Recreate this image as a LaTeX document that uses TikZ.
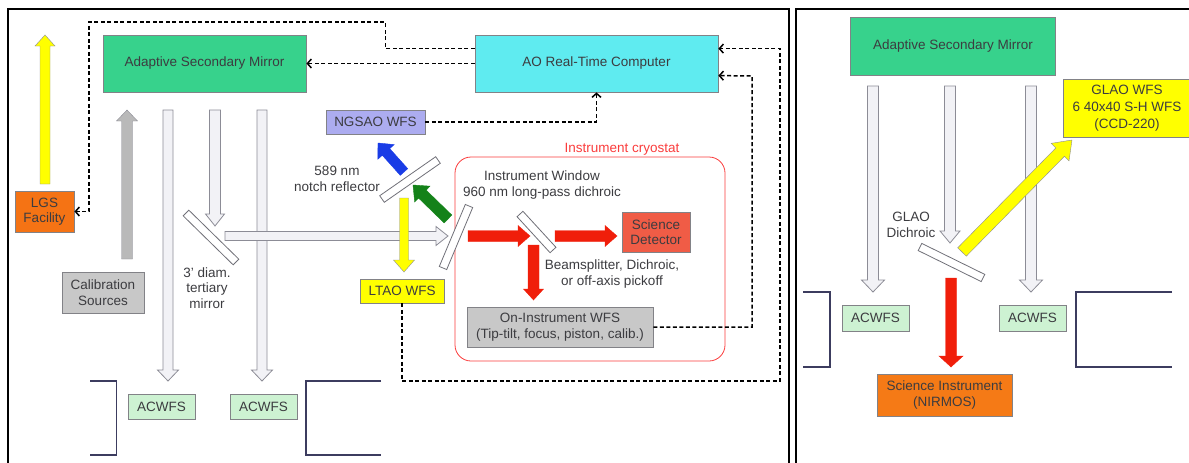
\documentclass[tikz,border=0pt]{standalone}
\usepackage{fontspec}
\setmainfont{Liberation Sans}
\usetikzlibrary{calc,arrows.meta}
\definecolor{txtgray}{RGB}{60,60,64}
\definecolor{boxline}{RGB}{130,130,135}
\definecolor{asmgreen}{RGB}{55,210,140}
\definecolor{rtccyan}{RGB}{95,235,240}
\definecolor{lgsorange}{RGB}{245,115,20}
\definecolor{ngsblue}{RGB}{172,172,240}
\definecolor{wfsyellow}{RGB}{255,255,0}
\definecolor{calgray}{RGB}{200,200,200}
\definecolor{detred}{RGB}{240,92,70}
\definecolor{sciorange}{RGB}{245,122,22}
\definecolor{acgreen}{RGB}{205,242,210}
\definecolor{cryored}{RGB}{250,60,60}
\definecolor{beamfill}{RGB}{242,242,246}
\definecolor{beamline}{RGB}{140,140,150}
\definecolor{beamred}{RGB}{240,30,10}
\definecolor{beamblue}{RGB}{25,60,230}
\definecolor{beamgreen}{RGB}{20,130,25}
\definecolor{beamgray}{RGB}{185,185,185}
\definecolor{bracketblue}{RGB}{60,60,95}
\tikzstyle{box}=[draw=boxline,line width=0.8pt,align=center,text=txtgray,inner sep=1pt]
\tikzstyle{ctrl}=[dash pattern=on 4pt off 2.5pt,line width=1.5pt,-{Straight Barb[length=4pt,width=9pt]}]
\tikzstyle{lightbeam}=[fill=beamfill,draw=beamline,line width=0.8pt]
\tikzstyle{mirror}=[fill=white,draw=beamline!80!black,line width=0.8pt]
\tikzstyle{frame}=[line width=2pt,black]
\tikzstyle{bracket}=[line width=1.6pt,bracketblue]
% block arrow: style, from, to, half shaft, half head, head length
\newcommand{\drawbeam}[6]{%
  \coordinate (bh) at ($(#3)!#6!(#2)$);
  \draw[#1] ($(#2)!#4!90:(#3)$) -- ($(bh)!#4!90:(#3)$) -- ($(bh)!#5!90:(#3)$) -- (#3)
    -- ($(bh)!#5!-90:(#3)$) -- ($(bh)!#4!-90:(#3)$) -- ($(#2)!#4!-90:(#3)$) -- cycle;}
% thin tilted mirror between two points
\newcommand{\drawmirror}[2]{%
  \draw[mirror] ($(#1)!4pt!90:(#2)$) -- ($(#2)!4pt!-90:(#1)$) -- ($(#2)!4pt!90:(#1)$)
    -- ($(#1)!4pt!-90:(#2)$) -- cycle;}

\begin{document}
\begin{tikzpicture}[x=1pt,y=-1pt,font=\fontsize{13.5}{15.5}\selectfont]
    \useasboundingbox (0,0) rectangle (1189,463);
    \draw[frame] (8,463) -- (8,9) -- (789,9) -- (789,463);
    \draw[frame] (796,463) -- (796,9) -- (1189,9);

    % left panel
    \node[box,fill=asmgreen,minimum width=203pt,minimum height=57pt] (asm) at (204.5,63.5) {Adaptive Secondary Mirror};
    \node[box,fill=rtccyan,minimum width=243pt,minimum height=57pt] (rtc) at (596.5,63.5) {AO Real-Time Computer};
    \node[box,fill=lgsorange,minimum width=59pt,minimum height=41pt] (lgs) at (44.5,211.5) {LGS\\Facility};
    \node[box,fill=ngsblue,minimum width=99pt,minimum height=24pt] (ngsao) at (375.5,122) {NGSAO WFS};
    \node[box,fill=wfsyellow,minimum width=84pt,minimum height=24pt] (ltao) at (402,291) {LTAO WFS};
    \node[box,fill=calgray,minimum width=82pt,minimum height=41pt] (calib) at (103,292.5) {Calibration\\Sources};
    \node[box,fill=detred,minimum width=68pt,minimum height=40pt] (sdet) at (656,232) {Science\\Detector};
    \node[box,fill=calgray,minimum width=186pt,minimum height=40pt] (oiwfs) at (560,327) {On-Instrument WFS\\(Tip-tilt, focus, piston, calib.)};
    \node[box,fill=acgreen,minimum width=67pt,minimum height=25pt] (acwfsA) at (161.5,406.5) {ACWFS};
    \node[box,fill=acgreen,minimum width=67pt,minimum height=25pt] (acwfsB) at (263.5,406.5) {ACWFS};

    \draw[cryored,line width=0.8pt,rounded corners=16pt] (455,157) rectangle (725,361);
    \node[text=cryored] (cryolbl) at (622,149) {Instrument cryostat};
    \node[align=center,text=txtgray] (tertlbl) at (207,288) {3' diam.\\tertiary\\mirror};
    \node[align=center,text=txtgray] (notchlbl) at (337,179) {589 nm\\notch reflector};
    \node[align=center,text=txtgray] (winlbl) at (542,185) {Instrument Window\\960 nm long-pass dichroic};
    \node[align=center,text=txtgray] (bslbl) at (612,274) {Beamsplitter, Dichroic,\\or off-axis pickoff};

    \draw[ctrl] ([yshift=-14pt]rtc.north west) -- ++(-89,0) |- (89,22) |- (lgs.east);
    \draw[ctrl] (rtc.west) -- (asm.east);
    \draw[ctrl] (ngsao.east) -| (rtc.south);
    \draw[ctrl] (ltao.south) |- (780,381) |- ([yshift=-14pt]rtc.north east);
    \draw[ctrl] (oiwfs.east) -| (752,76) -- ([yshift=-41pt]rtc.north east);

    \drawbeam{fill=wfsyellow,draw=beamline}{45,184}{45,35}{5pt}{10pt}{11pt}
    \drawbeam{fill=beamgray,draw=beamline}{127,259}{127,110}{5.5pt}{10.5pt}{11pt}
    \drawbeam{lightbeam}{168,110}{168,381}{5pt}{10.5pt}{11pt}
    \drawbeam{lightbeam}{215,110}{215,226}{5.5pt}{9.5pt}{12pt}
    \drawbeam{lightbeam}{262,110}{262,381}{5pt}{10.5pt}{11pt}
    \drawbeam{lightbeam}{225,236}{448,236}{4.5pt}{9.5pt}{12pt}
    \drawmirror{186,213}{236,262}
    \drawmirror{382,199}{438,160}
    \drawmirror{443,268}{469,206}
    \drawmirror{520,214}{553,250}
    \drawbeam{fill=beamblue,draw=beamblue}{404,172}{378,143}{5pt}{11pt}{12pt}
    \drawbeam{fill=beamgreen,draw=beamgreen}{448,219}{413,185}{5.5pt}{11pt}{13pt}
    \drawbeam{fill=wfsyellow,draw=beamline}{404,198}{404,272}{4.5pt}{10.5pt}{12pt}
    \drawbeam{fill=beamred,draw=beamred}{468,236}{530,236}{5.5pt}{10.5pt}{12pt}
    \drawbeam{fill=beamred,draw=beamred}{555,236}{617,236}{5.5pt}{10.5pt}{12pt}
    \drawbeam{fill=beamred,draw=beamred}{533.5,245}{533.5,300}{5.5pt}{10pt}{11pt}

    \draw[bracket] (90,381) -- (116.5,381) -- (116.5,455) -- (90,455);
    \draw[bracket] (381,381) -- (306,381) -- (306,455) -- (381,455);

    % right panel
    \node[box,fill=asmgreen,minimum width=205pt,minimum height=58pt] (asmR) at (953,46) {Adaptive Secondary Mirror};
    \node[box,fill=wfsyellow,minimum width=128pt,minimum height=58pt,font=\fontsize{13.5}{17}\selectfont] (glao) at (1127,108) {GLAO WFS\\6 40x40 S-H WFS\\(CCD-220)};
    \node[box,fill=sciorange,minimum width=135pt,minimum height=42pt] (sci) at (944.5,395) {Science Instrument\\(NIRMOS)};
    \node[box,fill=acgreen,minimum width=67pt,minimum height=26pt] (acwfsC) at (875.5,318) {ACWFS};
    \node[box,fill=acgreen,minimum width=67pt,minimum height=26pt] (acwfsD) at (1032.5,318) {ACWFS};
    \node[align=center,text=txtgray] (glaolbl) at (911,225) {GLAO\\Dichroic};

    \drawbeam{lightbeam}{873,86}{873,292}{5.5pt}{11.5pt}{12pt}
    \drawbeam{lightbeam}{950,86}{950,243}{5.5pt}{10pt}{12pt}
    \drawbeam{lightbeam}{1031,86}{1031,292}{5.5pt}{11.5pt}{12pt}
    \drawmirror{920,247}{983,278}
    \drawbeam{fill=wfsyellow,draw=beamline}{962,252}{1072,140}{6pt}{12.5pt}{17pt}
    \drawbeam{fill=beamred,draw=beamred}{951,278}{951,367}{5.5pt}{12pt}{11pt}

    \draw[bracket] (803,292) -- (830,292) -- (830,367) -- (803,367);
    \draw[bracket] (1172,292) -- (1076,292) -- (1076,367) -- (1172,367);
\end{tikzpicture}
\end{document}
